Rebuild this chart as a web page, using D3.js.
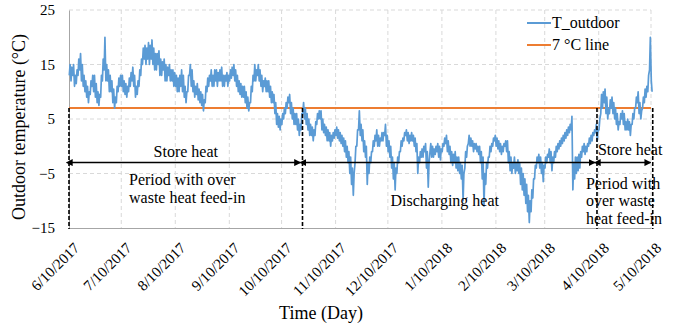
<!DOCTYPE html>
<html>
<head>
<meta charset="utf-8">
<script src="https://cdn.jsdelivr.net/npm/d3@7"></script>
<style>
  body { margin: 0; background: #fff; }
  text { font-family: "Liberation Serif", "Times New Roman", serif; fill: #000; }
</style>
</head>
<body>
<div class="outdoor-temp-chart"></div>
<script>
// x axis tick labels (10th of every month)
const tickLabels = ['6/10/2017', '7/10/2017', '8/10/2017', '9/10/2017', '10/10/2017', '11/10/2017',
  '12/10/2017', '1/10/2018', '2/10/2018', '3/10/2018', '4/10/2018', '5/10/2018'];
const yTicks = [-15, -5, 5, 15, 25];

// first day of the record
const startDay = '2017-06-10';

// outdoor temperature, two readings per day (night low, afternoon high), °C
const tOutdoor = [
  // Jun 10 - Jul 9
  13, 15, 12, 14.5, 13, 15, 11, 13, 11.5, 14, 13, 16, 14, 17, 12, 15, 11, 13, 10, 12,
  9, 11, 8, 10, 9.5, 12, 11, 13, 10, 13, 9, 11.5, 8, 10, 7.5, 9.5, 9, 13, 12, 16,
  14, 20, 12, 15, 12, 14, 10, 13, 10, 12, 8, 10.5, 7, 9, 8, 11, 10, 12.5, 11, 13,
  // Jul 10 - Aug 9
  11, 13, 10, 12, 9.5, 11.5, 9, 11, 10, 12.5, 11, 13.5, 12, 14.5, 11, 13, 9, 11, 9.5, 12,
  11, 14, 13, 16, 15, 18, 16, 18.5, 15, 18, 16, 19, 15, 18.5, 16, 19.5, 15, 18, 14, 17,
  14, 17, 15, 17.5, 13, 16, 13, 15.5, 14, 16, 12, 15, 12, 14.5, 13, 15, 12, 14, 12, 14, 11, 13.5,
  // Aug 10 - Sep 9
  11, 13, 10, 12.5, 10, 13, 11, 14, 10, 13, 9, 11, 8, 10, 10, 13, 13, 15, 11, 14,
  10, 12, 9, 11, 9.5, 11.5, 8.5, 10.5, 8, 10, 7.5, 9.5, 6.5, 8.5, 8, 11, 10, 12.5, 11, 13,
  12, 14, 11, 13, 11, 14, 12, 14, 11, 13.5, 12, 14, 12, 14.5, 11, 13, 11, 13, 12, 13.5, 11, 13,
  // Sep 10 - Oct 9
  12, 14, 12.5, 14.5, 13, 15, 12, 14, 11, 13, 10, 12, 9.5, 11.5, 9, 11, 9, 11, 8, 10,
  7, 9, 6.5, 8, 8, 11, 10, 13, 12, 15, 12, 14, 13, 15, 12, 14, 11, 13, 10, 12,
  11, 12.5, 10, 12, 10, 12, 9, 11, 8, 10, 8, 9.5, 6, 8, 4, 6, 3.5, 5.5, 3, 5,
  // Oct 10 - Nov 9
  4, 6, 5, 7, 6, 8, 7, 9, 8, 9.5, 6, 8, 5, 7, 4, 6, 4, 6, 3, 5,
  2, 4, 3, 6, 6, 8, 5, 7, 4, 6, 3, 5, 2, 4, 2, 3.5, 1, 3, 2, 4.5,
  4, 6, 5, 6.5, 5, 6.5, 3, 5, 2.5, 4, 2, 3.5, 1, 3, 1, 2.5, 0, 2, 1, 2.5, 1.5, 3,
  // Nov 10 - Dec 9
  2, 3.5, 1.5, 3, 1, 2.5, 0.5, 2, 0, 1.5, -1, 1, -2, 0, -3, -1, -5, -2, -7, -4,
  -9, -5, -3, 0, 0, 3, 3, 6.5, 2, 4, 1, 3, -1, 1, -2, 0, -7, -3, -5, -2,
  -3, -1, -1, 1, 0, 2, 1, 3, 0, 2, 0, 1.5, 1, 2.5, 1, 2.5, 2, 4, 0, 2,
  // Dec 10 - Jan 9
  -1, 1, -2, 0, -4, -2, -6, -3, -8, -4, -5, -2, -3, -1, -1, 1, 0, 1.5, 1, 2.5,
  2, 3, 1, 2.5, 0.5, 2, 1, 2.5, 1, 2, 0, 1.5, -1, 0.5, -5, -2, -3, -1, -2, -0.5,
  -2, 0, -1, 0.5, -4, -1, -7.5, -3, -1, 0.5, -2, 0, -2, -0.5, -1.5, 0, -1, 0.5, -2, 0, -2.5, -0.5,
  // Jan 10 - Feb 9
  -1, 0.5, 0, 1.5, 0.5, 2, -1, 1, -1.5, 0, -3, -1, -3.5, -1.5, -3, -1, -4, -2, -4.5, -2,
  -5, -3, -6, -3.5, -10, -5, -4, -1, -2, 0, 0.5, 2, 0, 1.5, 0, 1, -1, 0.5, -0.5, 0.5,
  -1, 0, -1.5, 0, -3, -1, -6, -2, -11, -5, -7, -3, -4, -2, -2, 0, -1, 0.5, 0, 1.5, 1, 2,
  // Feb 10 - Mar 9
  0, 1.5, -0.5, 1, -1, 0.5, -1.5, 0, -1, 0.5, 0, 1, -1, 1, -3, -1, -4.5, -2, -5, -3,
  -4, -2, -5, -3, -4.5, -2.5, -5, -3, -7, -4, -8, -5, -9, -6, -10.5, -7, -12, -9, -14, -10,
  -12, -8, -9.5, -6, -6, -3.5, -4, -2, -3, -1.5, -4, -2, -5, -3, -6.5, -3.5,
  // Mar 10 - Apr 9
  -4, -2, -3, -1.5, -2, -0.5, -3, -1, -4.5, -2, -3, -1, -2, 0, -1, 0.5, -0.5, 1, 0, 1.5,
  0.5, 2, 1, 2.5, 1.5, 3, 2, 3.5, 2.5, 4, 3, 5.5, -8, -3, -6, -2, -5, -2, -4.5, -1.5,
  -4, -1, -2, 0, -1, 0.5, -1.5, 0, -1, 0.5, 0, 1.5, 0.5, 2, 1, 2.5, 2, 3, 2.5, 4, 1, 3,
  // Apr 10 - May 10
  3, 5, 6, 9.5, 7, 10, 8, 10.5, 6, 9, 5, 7, 6, 8.5, 7, 9, 6, 8, 5, 7,
  4, 6, 3, 4.5, 4, 6, 5, 6.5, 4, 6, 3, 4.5, 3, 5, 3, 4.5, 2, 4, 4, 6,
  5, 7, 7, 9, 8, 10, 6, 8, 5, 6.5, 7, 9, 8, 10.5, 9, 11, 10, 13, 14, 20, 12, 10
];

const threshold = 7;

// period boundaries (dashed markers) and their labels
const periodDates = ['2017-06-10', '2017-10-22', '2018-04-09', '2018-05-11'];
const legendLabels = ['T_outdoor', '7 °C line'];

const margin = { top: 10, right: 25, bottom: 99, left: 69 };
const width = 676 - margin.left - margin.right;
const height = 327 - margin.top - margin.bottom;

const blue = '#5b9bd5';
const orange = '#ed7d31';
const serif = '"Liberation Serif", "Times New Roman", serif';

const parseIso = d3.utcParse('%Y-%m-%d');
const parseTick = d3.utcParse('%m/%d/%Y');
const t0 = parseIso(startDay);

const series = tOutdoor.map((v, i) => ({
  date: d3.utcHour.offset(t0, Math.floor(i / 2) * 24 + (i % 2 ? 15 : 4)),
  value: v
}));
const tickDates = tickLabels.map(parseTick);
const bounds = periodDates.map(parseIso);

const x = d3.scaleUtc()
  .domain([tickDates[0], tickDates[tickDates.length - 1]])
  .range([0, width]);

const y = d3.scaleLinear()
  .domain([-15, 25])
  .range([height, 0]);

const svg = d3.select('.outdoor-temp-chart')
  .append('svg')
    .attr('width', 676)
    .attr('height', 327)
  .append('g')
    .attr('transform', `translate(${margin.left}, ${margin.top})`);

const defs = svg.append('defs');
['start', 'end'].forEach(k => {
  defs.append('marker')
    .attr('id', `arrow-${k}`)
    .attr('viewBox', '0 0 10 10')
    .attr('refX', k === 'end' ? 9 : 1)
    .attr('refY', 5)
    .attr('markerWidth', 7)
    .attr('markerHeight', 7)
    .attr('markerUnits', 'userSpaceOnUse')
    .attr('orient', 'auto-start-reverse')
    .append('path')
      .attr('d', 'M0,0 L10,5 L0,10 Z')
      .attr('fill', '#000');
});

// gridlines
svg.append('g')
  .selectAll('line')
  .data(yTicks.filter(d => d > -15))
  .enter().append('line')
    .attr('x1', 0).attr('x2', width)
    .attr('y1', d => y(d)).attr('y2', d => y(d))
    .attr('stroke', '#d9d9d9')
    .attr('stroke-dasharray', '4,3');

svg.append('g')
  .selectAll('line')
  .data(tickDates.slice(1))
  .enter().append('line')
    .attr('x1', d => x(d)).attr('x2', d => x(d))
    .attr('y1', 0).attr('y2', height)
    .attr('stroke', '#d9d9d9')
    .attr('stroke-dasharray', '4,3');

// axes
const yAxis = svg.append('g')
  .call(d3.axisLeft(y).tickValues(yTicks).tickSize(0).tickPadding(14).tickFormat(d3.format('d')));
yAxis.attr('font-family', serif);
yAxis.select('.domain').attr('stroke', '#a6a6a6');
yAxis.selectAll('text')
  .style('font-family', serif)
  .style('font-size', '15px');

const xAxis = svg.append('g')
  .attr('transform', `translate(0, ${height})`)
  .call(d3.axisBottom(x).tickValues(tickDates).tickSize(0).tickFormat((d, i) => tickLabels[i]));
xAxis.attr('font-family', serif);
xAxis.select('.domain').attr('stroke', '#a6a6a6');
xAxis.selectAll('text')
  .style('font-family', serif)
  .style('font-size', '15px')
  .attr('text-anchor', 'end')
  .attr('dy', '0.35em')
  .attr('transform', 'translate(5, 15) rotate(-45)');

// 7 °C line
svg.append('line')
  .attr('x1', 0).attr('x2', width)
  .attr('y1', y(threshold)).attr('y2', y(threshold))
  .attr('stroke', orange)
  .attr('stroke-width', 2);

// temperature line
const line = d3.line()
  .x(d => x(d.date))
  .y(d => y(d.value));

svg.append('path')
  .datum(series)
  .attr('d', line)
  .attr('fill', 'none')
  .attr('stroke', blue)
  .attr('stroke-width', 1.7)
  .attr('stroke-linejoin', 'round');

// period markers
svg.append('g')
  .selectAll('line')
  .data(bounds)
  .enter().append('line')
    .attr('x1', d => x(d)).attr('x2', d => x(d))
    .attr('y1', y(threshold)).attr('y2', height + 1)
    .attr('stroke', '#000')
    .attr('stroke-width', 1.6)
    .attr('stroke-dasharray', '4,2');

const arrowY = y(-3);
svg.append('g')
  .selectAll('line')
  .data(d3.pairs(bounds))
  .enter().append('line')
    .attr('x1', d => x(d[0]) + 3).attr('x2', d => x(d[1]) - 2)
    .attr('y1', arrowY).attr('y2', arrowY)
    .attr('stroke', '#000')
    .attr('stroke-width', 1.5)
    .attr('marker-start', 'url(#arrow-start)')
    .attr('marker-end', 'url(#arrow-end)');

// annotations
const notes = svg.append('g').style('font-size', '16px');
const mid1 = x(new Date((+bounds[0] + +bounds[1]) / 2));
notes.append('text')
  .attr('x', mid1).attr('y', y(-2))
  .attr('text-anchor', 'middle')
  .text('Store heat');
notes.append('text')
  .attr('x', 60).attr('y', y(-7.2))
  .selectAll('tspan')
  .data(['Period with over', 'waste heat feed-in'])
  .enter().append('tspan')
    .attr('x', 60)
    .attr('dy', (d, i) => i ? 18 : 0)
    .text(d => d);
notes.append('text')
  .attr('x', x(new Date((+bounds[1] + +bounds[2]) / 2)) - 5).attr('y', y(-11))
  .attr('text-anchor', 'middle')
  .text('Discharging heat');
notes.append('text')
  .attr('x', x(bounds[2]) + 1).attr('y', y(-1.6))
  .text('Store heat');
notes.append('text')
  .attr('x', x(bounds[2]) - 11).attr('y', y(-7.8))
  .selectAll('tspan')
  .data(['Period with', 'over waste', 'heat feed-in'])
  .enter().append('tspan')
    .attr('x', x(bounds[2]) - 11)
    .attr('dy', (d, i) => i ? 17.5 : 0)
    .text(d => d);

// legend
const legend = svg.append('g')
  .attr('transform', `translate(${width - 124}, 13)`)
  .selectAll('g')
  .data(legendLabels)
  .enter().append('g')
    .attr('transform', (d, i) => `translate(0, ${i * 22})`);
legend.append('line')
  .attr('x1', 0).attr('x2', 24)
  .attr('stroke', (d, i) => i ? orange : blue)
  .attr('stroke-width', 2);
legend.append('text')
  .attr('x', 25).attr('y', 5)
  .style('font-size', '16px')
  .text(d => d);

// axis titles
svg.append('text')
  .attr('x', width / 2 - 39).attr('y', height + 91)
  .attr('text-anchor', 'middle')
  .style('font-size', '18px')
  .text('Time (Day)');
svg.append('text')
  .attr('transform', `translate(-44, ${height / 2 + 8}) rotate(-90)`)
  .attr('text-anchor', 'middle')
  .style('font-size', '18px')
  .text('Outdoor temperature (°C)');
</script>
</body>
</html>
